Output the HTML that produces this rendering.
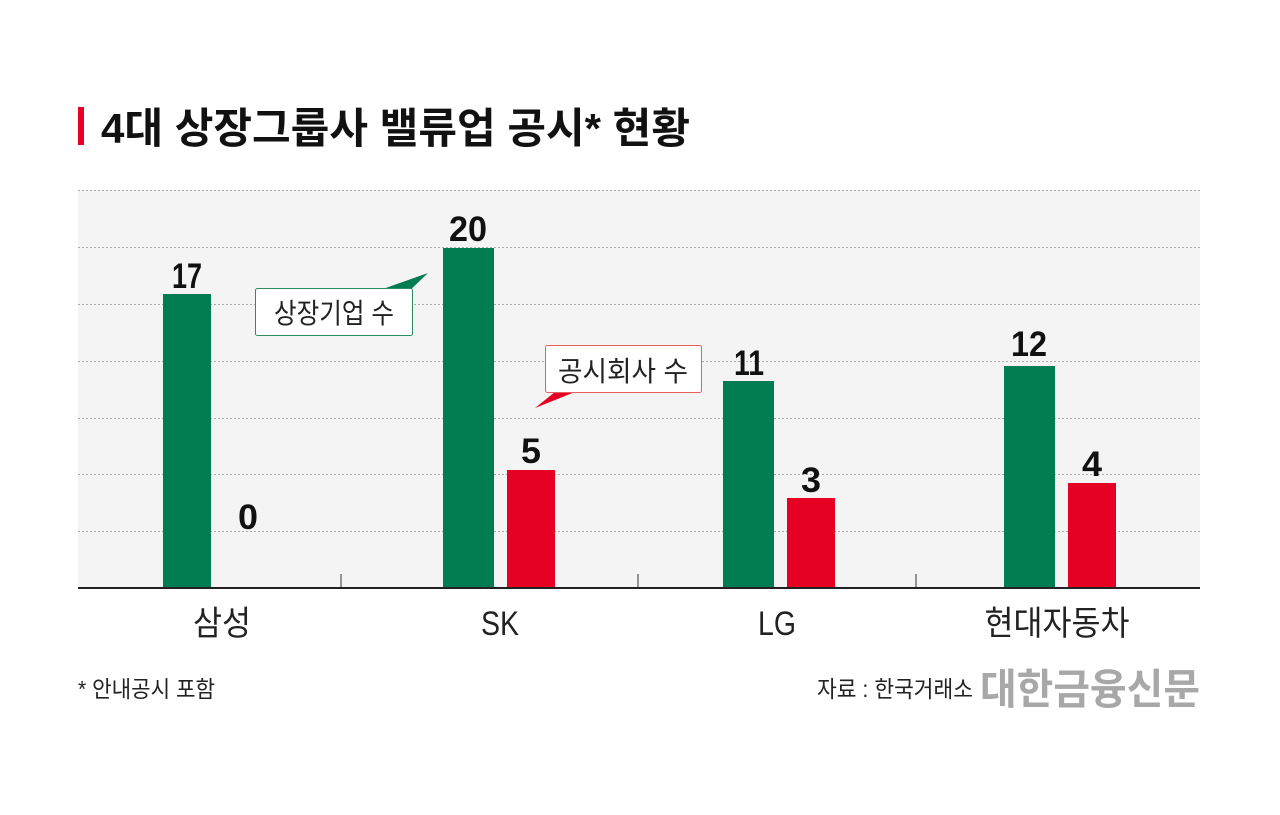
<!DOCTYPE html>
<html><head><meta charset="utf-8"><style>
html,body{margin:0;padding:0;background:#fff;}
svg{display:block;font-family:"Liberation Sans","Noto Sans CJK KR",sans-serif;}
</style></head><body>
<svg width="1280" height="815" viewBox="0 0 1280 815">
<rect x="78" y="107" width="6" height="38" fill="#e60023"/>
<text x="101" y="143" font-size="42" font-weight="bold" fill="#111" textLength="589" lengthAdjust="spacingAndGlyphs">4대 상장그룹사 밸류업 공시* 현황</text>
<rect x="78" y="190" width="1122" height="398" fill="#f4f4f4"/>
<g stroke="#aaa" stroke-width="1" stroke-dasharray="2,2">
<line x1="78" y1="190.5" x2="1200" y2="190.5"/>
<line x1="78" y1="247.5" x2="1200" y2="247.5"/>
<line x1="78" y1="304.5" x2="1200" y2="304.5"/>
<line x1="78" y1="361.5" x2="1200" y2="361.5"/>
<line x1="78" y1="418.5" x2="1200" y2="418.5"/>
<line x1="78" y1="474.5" x2="1200" y2="474.5"/>
<line x1="78" y1="531.5" x2="1200" y2="531.5"/>
</g>
<g fill="#007d50">
<rect x="163" y="294" width="48" height="294"/>
<rect x="443" y="248" width="51" height="340"/>
<rect x="723" y="381" width="51" height="207"/>
<rect x="1004" y="366" width="51" height="222"/>
</g>
<g fill="#e60023">
<rect x="507" y="470" width="48" height="118"/>
<rect x="787" y="498" width="48" height="90"/>
<rect x="1068" y="483" width="48" height="105"/>
</g>
<g stroke="#333" stroke-width="1">
<line x1="341" y1="574" x2="341" y2="588"/>
<line x1="638" y1="574" x2="638" y2="588"/>
<line x1="916" y1="574" x2="916" y2="588"/>
</g>
<line x1="78" y1="588" x2="1200" y2="588" stroke="#222" stroke-width="2"/>
<g font-size="35" font-weight="bold" fill="#111" text-anchor="middle">
<text x="187" y="288" textLength="30" lengthAdjust="spacingAndGlyphs">17</text>
<text x="468" y="241" textLength="38" lengthAdjust="spacingAndGlyphs">20</text>
<text x="248" y="529" textLength="20" lengthAdjust="spacingAndGlyphs">0</text>
<text x="531" y="463" textLength="20" lengthAdjust="spacingAndGlyphs">5</text>
<text x="749" y="375" textLength="30" lengthAdjust="spacingAndGlyphs">11</text>
<text x="811" y="492" textLength="20" lengthAdjust="spacingAndGlyphs">3</text>
<text x="1029" y="356" textLength="36" lengthAdjust="spacingAndGlyphs">12</text>
<text x="1092" y="476" textLength="20" lengthAdjust="spacingAndGlyphs">4</text>
</g>
<polygon points="380,290 428,273 405,295" fill="#007d50"/>
<rect x="255.5" y="288.5" width="157" height="47" rx="2" fill="#fff" stroke="#2e8b62" stroke-width="1"/>
<text x="334" y="323" font-size="28" fill="#222" text-anchor="middle" textLength="120" lengthAdjust="spacingAndGlyphs">상장기업 수</text>
<polygon points="555,392 535,408 575,392" fill="#e60023"/>
<rect x="545.5" y="345.5" width="156" height="47" rx="2" fill="#fff" stroke="#e8605e" stroke-width="1"/>
<text x="623" y="381" font-size="28" fill="#222" text-anchor="middle" textLength="130" lengthAdjust="spacingAndGlyphs">공시회사 수</text>
<g font-size="34" fill="#222" text-anchor="middle">
<text x="222" y="635" textLength="58" lengthAdjust="spacingAndGlyphs">삼성</text>
<text x="500" y="635" textLength="38" lengthAdjust="spacingAndGlyphs">SK</text>
<text x="777" y="635" textLength="38" lengthAdjust="spacingAndGlyphs">LG</text>
<text x="1057" y="635" textLength="145" lengthAdjust="spacingAndGlyphs">현대자동차</text>
</g>
<text x="78" y="697" font-size="23" fill="#222" textLength="137" lengthAdjust="spacingAndGlyphs">* 안내공시 포함</text>
<text x="817" y="697" font-size="23" fill="#222" textLength="156" lengthAdjust="spacingAndGlyphs">자료 : 한국거래소</text>
<text x="980" y="704" font-size="42" font-weight="bold" fill="#a8a8a8" textLength="220" lengthAdjust="spacingAndGlyphs">대한금융신문</text>
</svg>
</body></html>
